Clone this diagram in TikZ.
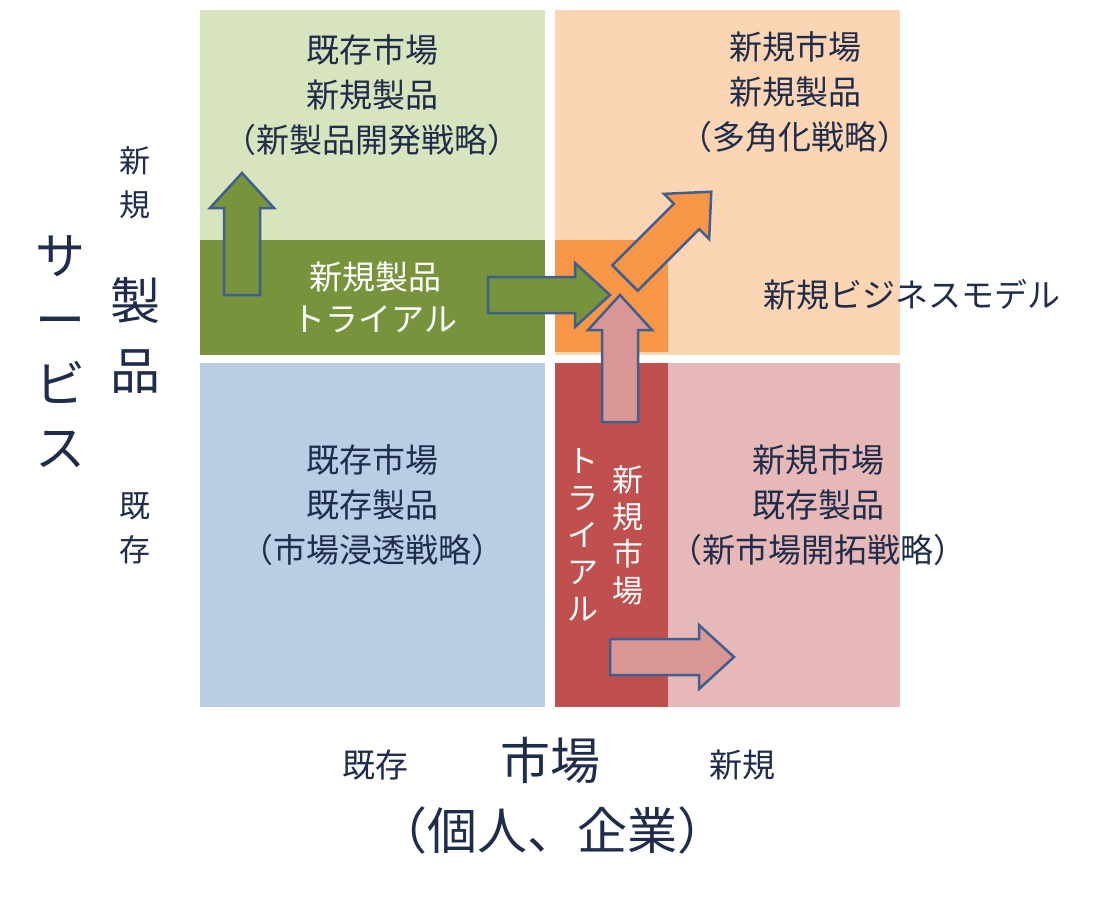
\documentclass[tikz,border=0pt]{standalone}
\usepackage{fontspec}
\setmainfont{Noto Sans CJK JP}
\definecolor{navy}{HTML}{1F2D4A}
\definecolor{lgreen}{HTML}{D7E4BD}
\definecolor{dgreen}{HTML}{77933C}
\definecolor{lorange}{HTML}{FCD5B5}
\definecolor{dorange}{HTML}{F79646}
\definecolor{lblue}{HTML}{B9CDE5}
\definecolor{lpink}{HTML}{E6B9B8}
\definecolor{dred}{HTML}{C0504D}
\definecolor{mpink}{HTML}{D99694}
\definecolor{edge}{HTML}{3F5F8F}
\tikzset{
  txt/.style={text=navy,align=center,font=\fontsize{33}{45}\selectfont},
  wtxt/.style={text=white,align=center,font=\fontsize{33}{42}\selectfont},
  big/.style={text=navy,align=center,font=\fontsize{50}{60}\selectfont},
  barrow/.pic={\path[draw=edge,line width=2.5pt,pic actions]
    (0,-18) -- (#1-35,-18) -- (#1-35,-32) -- (#1,0) -- (#1-35,32) -- (#1-35,18) -- (0,18) -- cycle;}
}
\begin{document}
\begin{tikzpicture}[x=1pt,y=-1pt]
  \useasboundingbox (0,0) rectangle (1106,897);
  % quadrants
  \fill[lgreen] (200,10) rectangle (545,355);
  \fill[dgreen] (200,240) rectangle (545,355);
  \fill[lorange] (555,10) rectangle (900,355);
  \fill[dorange] (555,240) rectangle (668,352);
  \fill[lblue] (200,363) rectangle (545,707);
  \fill[lpink] (555,363) rectangle (900,707);
  \fill[dred] (555,363) rectangle (668,707);

  % arrows
  \pic[fill=dgreen,rotate=90] at (242,295) {barrow=122};
  \pic[fill=dgreen] at (488,295) {barrow=122};
  \pic[fill=mpink,rotate=90] at (620,422) {barrow=127};
  \pic[fill=dorange,rotate=45] at (625,278) {barrow=122};
  \pic[fill=mpink] at (610,657) {barrow=124};

  % quadrant texts
  \node[txt] (q1) at (372,95) {既存市場\\新規製品\\（新製品開発戦略）};
  \node[txt] (q2) at (795,92) {新規市場\\新規製品\\（多角化戦略）};
  \node[txt] (q3) at (372,505) {既存市場\\既存製品\\（市場浸透戦略）};
  \node[txt] (q4) at (818,505) {新規市場\\既存製品\\（新市場開拓戦略）};
  \node[wtxt] (trialP) at (375,297) {新規製品\\トライアル};
  \node[txt] (biz) at (912,295) {新規ビジネスモデル};
  \node[wtxt,font=\fontsize{31}{37}\selectfont] (trialMa) at (628,535) {新\\規\\市\\場};
  \node[wtxt,font=\fontsize{31}{37}\selectfont] (trialMb) at (583,535) {ト\\ラ\\イ\\ア\\ル};

  % axes
  \node[txt,font=\fontsize{31}{44}\selectfont] (yNew) at (135,183) {新\\規};
  \node[big,font=\fontsize{50}{70}\selectfont] (yProd) at (135,335) {製\\品};
  \node[big,font=\fontsize{50}{64}\selectfont] (ySvc) at (60,352) {サ\\ー\\ビ\\ス};
  \node[txt,font=\fontsize{31}{44}\selectfont] (yOld) at (135,528) {既\\存};
  \node[txt] (xOld) at (375,765) {既存};
  \node[big] (xMkt) at (550,760) {市場};
  \node[txt] (xNew) at (742,765) {新規};
  \node[big] (xSub) at (552,830) {（個人、企業）};
\end{tikzpicture}
\end{document}
